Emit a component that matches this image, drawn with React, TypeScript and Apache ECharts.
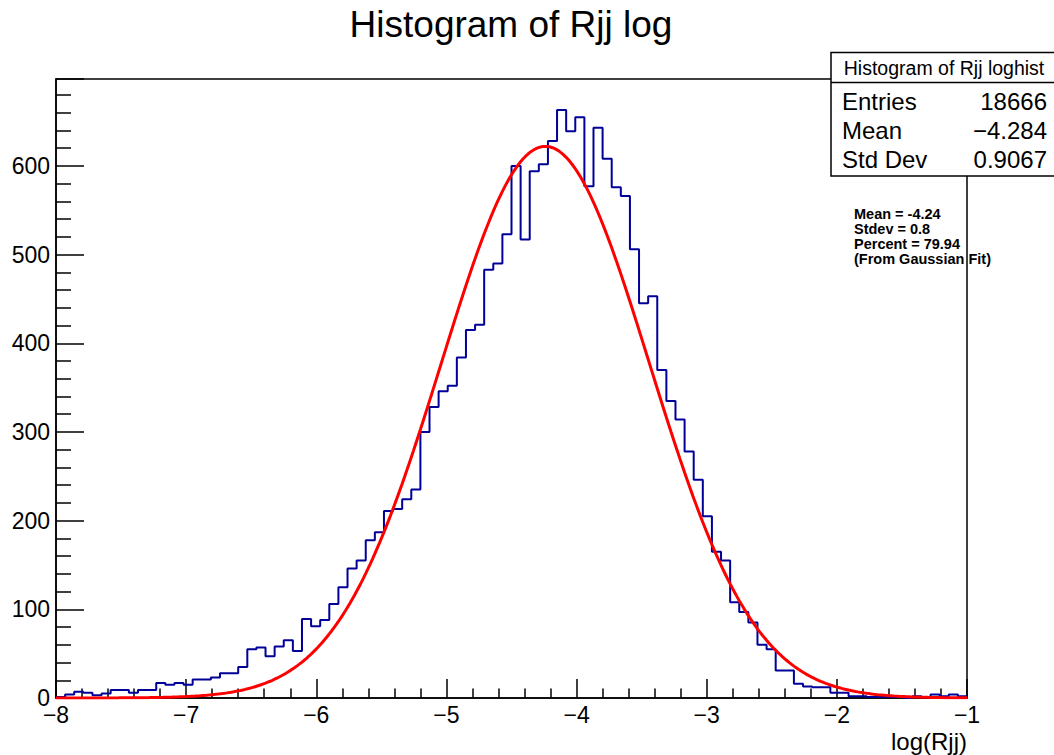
import React, { useEffect, useRef } from 'react';
import * as echarts from 'echarts';

const binMin = -8;
const binMax = -1;
const binCounts = [
  1, 4, 7, 6, 3, 5, 9, 9, 6, 9,
  9, 17, 15, 17, 15, 21, 21, 23, 28, 28,
  35, 55, 57, 47, 58, 65, 53, 89, 81, 88,
  106, 125, 146, 155, 178, 187, 211, 213, 224, 235,
  300, 328, 346, 352, 384, 415, 421, 483, 490, 523,
  600, 517, 594, 602, 628, 663, 639, 655, 577, 643,
  608, 576, 566, 506, 445, 453, 370, 335, 314, 278,
  246, 205, 165, 155, 108, 97, 85, 60, 55, 31,
  31, 16, 13, 12, 12, 6, 6, 2, 2, 1,
  1, 1, 1, 0, 2, 1, 4, 2, 4, 2,
];

const fitMean = -4.24;
const fitSigma = 0.8;
const fitAmplitude = 622;

const yMax = 698;
const titleText = 'Histogram of Rjj log';
const xAxisTitle = 'log(Rjj)';
const statsTitle = 'Histogram of Rjj loghist';
const statsLabels = ['Entries', 'Mean', 'Std Dev'];
const statsValues = ['18666', '\u22124.284', '0.9067'];
const fitLines = ['Mean = -4.24', 'Stdev = 0.8', 'Percent = 79.94', '(From Gaussian Fit)'];

const FONT = '"Liberation Sans", Arial, Helvetica, sans-serif';

export default function App() {
  const ref = useRef<HTMLDivElement>(null);

  useEffect(() => {
    if (!ref.current) return;
    const chart = echarts.init(ref.current, undefined, { renderer: 'svg' });

    const n = binCounts.length;
    const w = (binMax - binMin) / n;
    const histPoints: number[][] = [];
    for (let i = 0; i < n; i++) {
      const lo = binMin + i * w;
      const hi = lo + w;
      histPoints.push([lo, binCounts[i]]);
      histPoints.push([hi, binCounts[i]]);
    }

    const fitPoints: number[][] = [];
    const steps = 400;
    for (let k = 0; k <= steps; k++) {
      const x = binMin + (k * (binMax - binMin)) / steps;
      const d = x - fitMean;
      fitPoints.push([x, fitAmplitude * Math.exp(-(d * d) / (2 * fitSigma * fitSigma))]);
    }

    const minusFmt = (v: number) => (v < 0 ? '\u2212' + Math.abs(v) : String(v));

    const graphics: any[] = [
      {
        type: 'text',
        x: 511,
        y: 24,
        style: { text: titleText, font: `37px ${FONT}`, fill: '#000', align: 'center', verticalAlign: 'middle' },
      },
      {
        type: 'text',
        x: 967,
        y: 741,
        style: { text: xAxisTitle, font: `24px ${FONT}`, fill: '#000', align: 'right', verticalAlign: 'middle' },
      },
      {
        type: 'rect',
        shape: { x: 831, y: 52.5, width: 260, height: 123.5 },
        style: { fill: '#fff', stroke: '#000', lineWidth: 1.5 },
        z: 10,
      },
      {
        type: 'line',
        shape: { x1: 831, y1: 82.5, x2: 1060, y2: 82.5 },
        style: { stroke: '#000', lineWidth: 1.5 },
        z: 11,
      },
      {
        type: 'text',
        x: 944,
        y: 68,
        z: 11,
        style: { text: statsTitle, font: `19.5px ${FONT}`, fill: '#000', align: 'center', verticalAlign: 'middle' },
      },
    ];
    const rowY = [101.5, 130, 159];
    statsLabels.forEach((lab, i) => {
      graphics.push({
        type: 'text',
        x: 842,
        y: rowY[i],
        z: 11,
        style: { text: lab, font: `24px ${FONT}`, fill: '#000', align: 'left', verticalAlign: 'middle' },
      });
      graphics.push({
        type: 'text',
        x: 1047,
        y: rowY[i],
        z: 11,
        style: { text: statsValues[i], font: `24px ${FONT}`, fill: '#000', align: 'right', verticalAlign: 'middle' },
      });
    });
    fitLines.forEach((t, i) => {
      graphics.push({
        type: 'text',
        x: 854,
        y: 214 + i * 15,
        z: 11,
        style: { text: t, font: `bold 14.5px ${FONT}`, fill: '#000', align: 'left', verticalAlign: 'middle' },
      });
    });

    chart.setOption({
      animation: false,
      backgroundColor: '#fff',
      grid: {
        left: 56,
        right: 87,
        top: 79,
        bottom: 57,
        show: true,
        borderColor: '#000',
        borderWidth: 1.5,
        backgroundColor: 'transparent',
      },
      xAxis: {
        type: 'value',
        min: binMin,
        max: binMax,
        interval: 1,
        axisLine: { show: true, onZero: false, lineStyle: { color: '#000', width: 1.5 } },
        axisTick: { show: true, inside: true, length: 19, lineStyle: { color: '#000', width: 1.5 } },
        minorTick: { show: true, splitNumber: 5, length: 9.5, lineStyle: { color: '#000', width: 1.5 } },
        splitLine: { show: false },
        minorSplitLine: { show: false },
        axisLabel: { formatter: minusFmt, color: '#000', fontSize: 23, fontFamily: FONT, margin: 9, lineHeight: 16 },
      },
      yAxis: {
        type: 'value',
        min: 0,
        max: yMax,
        interval: 100,
        axisLine: { show: true, onZero: false, lineStyle: { color: '#000', width: 1.5 } },
        axisTick: { show: true, inside: true, length: 28, lineStyle: { color: '#000', width: 1.5 } },
        minorTick: { show: true, splitNumber: 5, length: 15, lineStyle: { color: '#000', width: 1.5 } },
        splitLine: { show: false },
        minorSplitLine: { show: false },
        axisLabel: { color: '#000', fontSize: 23, fontFamily: FONT, margin: 6, showMaxLabel: false, lineHeight: 16 },
      },
      series: [
        {
          type: 'line',
          data: histPoints,
          showSymbol: false,
          symbol: 'none',
          lineStyle: { color: '#000099', width: 2 },
          z: 2,
        },
        {
          type: 'line',
          data: fitPoints,
          showSymbol: false,
          symbol: 'none',
          lineStyle: { color: '#ff0000', width: 3 },
          z: 3,
        },
      ],
      graphic: graphics,
    });

    return () => chart.dispose();
  }, []);

  return (
    <div
      ref={ref}
      style={{ position: 'fixed', left: 0, top: 0, width: 1054, height: 755, background: '#fff' }}
    />
  );
}
